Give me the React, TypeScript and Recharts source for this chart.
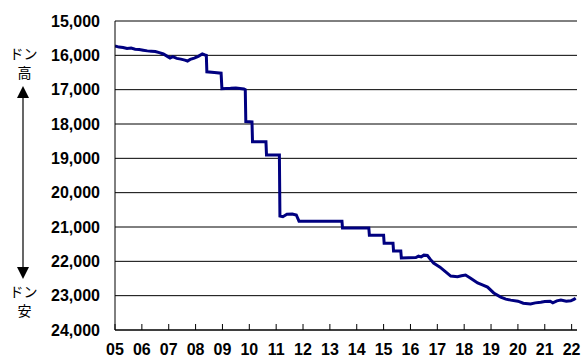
import React from "react";
import { LineChart, Line, XAxis, YAxis, CartesianGrid } from "recharts";

const years: number[] = [
  2005.0, 2005.15, 2005.3, 2005.45, 2005.6, 2005.75, 2005.9, 2006.05, 2006.2, 2006.35,
  2006.5, 2006.65, 2006.8, 2006.95, 2007.05, 2007.15, 2007.3, 2007.45, 2007.6, 2007.7,
  2007.8, 2007.95, 2008.1, 2008.25, 2008.35, 2008.4, 2008.42, 2008.7, 2008.95, 2008.98,
  2009.3, 2009.5, 2009.8, 2009.85, 2009.87, 2010.1, 2010.12, 2010.62, 2010.64, 2011.12,
  2011.14, 2011.25, 2011.4, 2011.6, 2011.75, 2011.85, 2013.45, 2013.47, 2014.45, 2014.47,
  2015.0, 2015.02, 2015.35, 2015.37, 2015.64, 2015.66, 2016.2, 2016.3, 2016.4, 2016.5,
  2016.63, 2016.75, 2016.86, 2017.0, 2017.1, 2017.3, 2017.5, 2017.75, 2017.9, 2018.05,
  2018.24, 2018.5, 2018.7, 2018.87, 2019.1, 2019.36, 2019.55, 2019.73, 2020.0, 2020.2,
  2020.47, 2020.65, 2020.85, 2021.0, 2021.2, 2021.3, 2021.45, 2021.6, 2021.8, 2021.97,
  2022.1, 2022.15,
];

const rates: number[] = [
  15730, 15760, 15770, 15800, 15790, 15820, 15830, 15850, 15870, 15880,
  15890, 15920, 15960, 16030, 16080, 16040, 16090, 16110, 16140, 16165,
  16120, 16080, 16030, 15960, 15990, 16000, 16480, 16500, 16520, 16970,
  16960, 16950, 16980, 17000, 17930, 17940, 18520, 18520, 18900, 18900,
  20680, 20700, 20630, 20620, 20650, 20830, 20830, 21030, 21030, 21240,
  21240, 21470, 21470, 21700, 21700, 21900, 21890, 21850, 21870, 21820,
  21830, 21950, 22050, 22120, 22170, 22300, 22430, 22450, 22420, 22400,
  22490, 22630, 22690, 22750, 22920, 23040, 23100, 23130, 23160, 23220,
  23240, 23210, 23190, 23170, 23160, 23210, 23150, 23130, 23160, 23150,
  23100, 23070,
];

const xTicks: number[] = [
  2005, 2006, 2007, 2008, 2009, 2010, 2011, 2012, 2013, 2014, 2015, 2016, 2017, 2018,
  2019, 2020, 2021, 2022,
];
const yTicks: number[] = [15000, 16000, 17000, 18000, 19000, 20000, 21000, 22000, 23000, 24000];

const topLabel = ["ドン", "高"];
const bottomLabel = ["ドン", "安"];

const data = years.map((y, i) => ({ year: y, rate: rates[i] }));

const FONT = "'Liberation Sans', Arial, sans-serif";
const JFONT = "'Noto Sans CJK JP', sans-serif";

const XTick = (props: any) => {
  const { x, y, payload } = props;
  const label = String(payload.value % 100).padStart(2, "0");
  return (
    <g>
      <line x1={x} x2={x} y1={y - 6} y2={y} stroke="#000" strokeWidth={1} />
      <text
        x={x}
        y={y + 24.5}
        textAnchor="middle"
        fontFamily={FONT}
        fontWeight="bold"
        fontSize={16}
        fill="#000"
      >
        {label}
      </text>
    </g>
  );
};

export default function App() {
  return (
    <div style={{ position: "absolute", left: 0, top: 0, width: 583, height: 356 }}>
      <LineChart
        width={583}
        height={356}
        data={data}
        margin={{ top: 21, right: 6, bottom: 0, left: 0 }}
      >
        <CartesianGrid horizontal vertical={false} stroke="#000" strokeWidth={1} />
        <XAxis
          dataKey="year"
          type="number"
          domain={[2005, 2022.2]}
          ticks={xTicks}
          interval={0}
          height={26}
          tickSize={0}
          tickMargin={0}
          tickLine={false}
          axisLine={{ stroke: "#000", strokeWidth: 1 }}
          tick={<XTick />}
          allowDataOverflow
        />
        <YAxis
          type="number"
          reversed
          domain={[15000, 24000]}
          ticks={yTicks}
          interval={0}
          width={115}
          tickSize={0}
          tickMargin={15}
          tickLine={false}
          axisLine={{ stroke: "#000", strokeWidth: 1 }}
          tickFormatter={(v: number) => v.toLocaleString("en-US")}
          tick={{ fill: "#000", fontFamily: FONT, fontWeight: "bold", fontSize: 16 }}
          allowDataOverflow
        />
        <Line
          type="linear"
          dataKey="rate"
          stroke="#000080"
          strokeWidth={3}
          dot={false}
          isAnimationActive={false}
        />
      </LineChart>
      <svg
        width={60}
        height={356}
        style={{ position: "absolute", left: 0, top: 0 }}
      >
        <text x={23.5} y={59} textAnchor="middle" fontFamily={JFONT} fontSize={14} fill="#000">
          {topLabel[0]}
        </text>
        <text x={24.5} y={78} textAnchor="middle" fontFamily={JFONT} fontSize={14} fill="#000">
          {topLabel[1]}
        </text>
        <polygon points="23,86 17,98 29,98" fill="#000" />
        <line x1={23} x2={23} y1={97} y2={268} stroke="#000" strokeWidth={1.2} />
        <polygon points="17,267 29,267 23,279" fill="#000" />
        <text x={23.5} y={297} textAnchor="middle" fontFamily={JFONT} fontSize={14} fill="#000">
          {bottomLabel[0]}
        </text>
        <text x={24.5} y={316} textAnchor="middle" fontFamily={JFONT} fontSize={14} fill="#000">
          {bottomLabel[1]}
        </text>
      </svg>
    </div>
  );
}
